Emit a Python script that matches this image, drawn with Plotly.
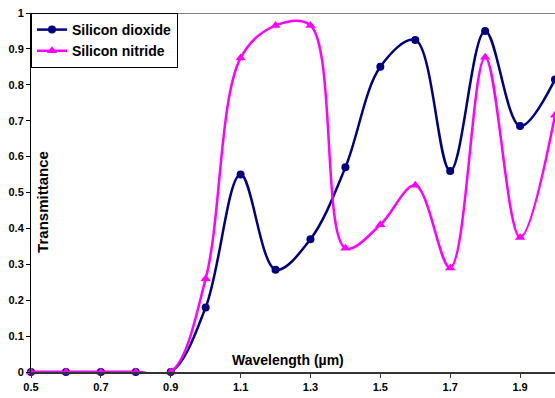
import plotly.graph_objects as go

wavelength = [0.5, 0.6, 0.7, 0.8, 0.9, 1.0, 1.1, 1.2, 1.3, 1.4, 1.5, 1.6, 1.7, 1.8, 1.9, 2.0]
silicon_dioxide = [0, 0, 0, 0, 0, 0.18, 0.55, 0.285, 0.37, 0.57, 0.85, 0.925, 0.56, 0.95, 0.685, 0.815]
silicon_nitride = [0, 0, 0, 0, 0, 0.26, 0.875, 0.965, 0.965, 0.345, 0.41, 0.52, 0.29, 0.877, 0.375, 0.715]

x_ticks = [0.5, 0.7, 0.9, 1.1, 1.3, 1.5, 1.7, 1.9]
y_ticks = [0, 0.1, 0.2, 0.3, 0.4, 0.5, 0.6, 0.7, 0.8, 0.9, 1]

FONT = "Liberation Sans, Arial, sans-serif"
NAVY = "#000080"
MAGENTA = "#FF00FF"

fig = go.Figure()
fig.add_trace(go.Scatter(
    x=wavelength, y=silicon_dioxide, name="Silicon dioxide",
    mode="lines+markers", line=dict(color=NAVY, width=2.5, shape="spline", smoothing=1),
    marker=dict(symbol="circle", size=8, color=NAVY), cliponaxis=False,
))
fig.add_trace(go.Scatter(
    x=wavelength, y=silicon_nitride, name="Silicon nitride",
    mode="lines+markers", line=dict(color=MAGENTA, width=2.5, shape="spline", smoothing=1),
    marker=dict(symbol="triangle-up", size=9, color=MAGENTA), cliponaxis=False,
))

fig.update_layout(
    width=555, height=398,
    margin=dict(l=31, r=0, t=13, b=26),
    paper_bgcolor="white", plot_bgcolor="white",
    font=dict(family=FONT, size=11, color="black"),
    showlegend=True,
    legend=dict(
        x=0, y=1, xanchor="left", yanchor="top",
        bgcolor="white", bordercolor="black", borderwidth=1,
        font=dict(family=FONT, size=14, color="black", weight="bold"),
        itemwidth=30, tracegroupgap=0,
    ),
    xaxis=dict(
        range=[0.5, 2.0], tickvals=x_ticks, ticktext=[f"{v:.1f}" for v in x_ticks],
        showgrid=False, zeroline=False,
        showline=True, linecolor="#333333", linewidth=2,
        ticks="outside", ticklen=4, tickcolor="#333333",
        tickfont=dict(family=FONT, size=11, weight="bold"),
    ),
    yaxis=dict(
        range=[0, 1], tickvals=y_ticks, ticktext=[("%g" % v) for v in y_ticks],
        showgrid=False, zeroline=False,
        showline=True, linecolor="black", linewidth=1,
        ticks="outside", ticklen=4, tickcolor="black",
        tickfont=dict(family=FONT, size=11, weight="bold"),
    ),
    shapes=[dict(type="line", xref="paper", yref="y", x0=0, x1=1, y0=1, y1=1,
                 line=dict(color="#808080", width=2))],
    annotations=[
        dict(text="Transmittance", xref="paper", yref="paper", x=0.023, y=0.474,
             textangle=-90, showarrow=False, xanchor="center", yanchor="middle",
             font=dict(family=FONT, size=15, weight="bold")),
        dict(text="Wavelength (µm)", xref="paper", yref="paper", x=0.49, y=0.006,
             showarrow=False, xanchor="center", yanchor="bottom",
             font=dict(family=FONT, size=14, weight="bold")),
    ],
)

fig.write_html("out.html")
